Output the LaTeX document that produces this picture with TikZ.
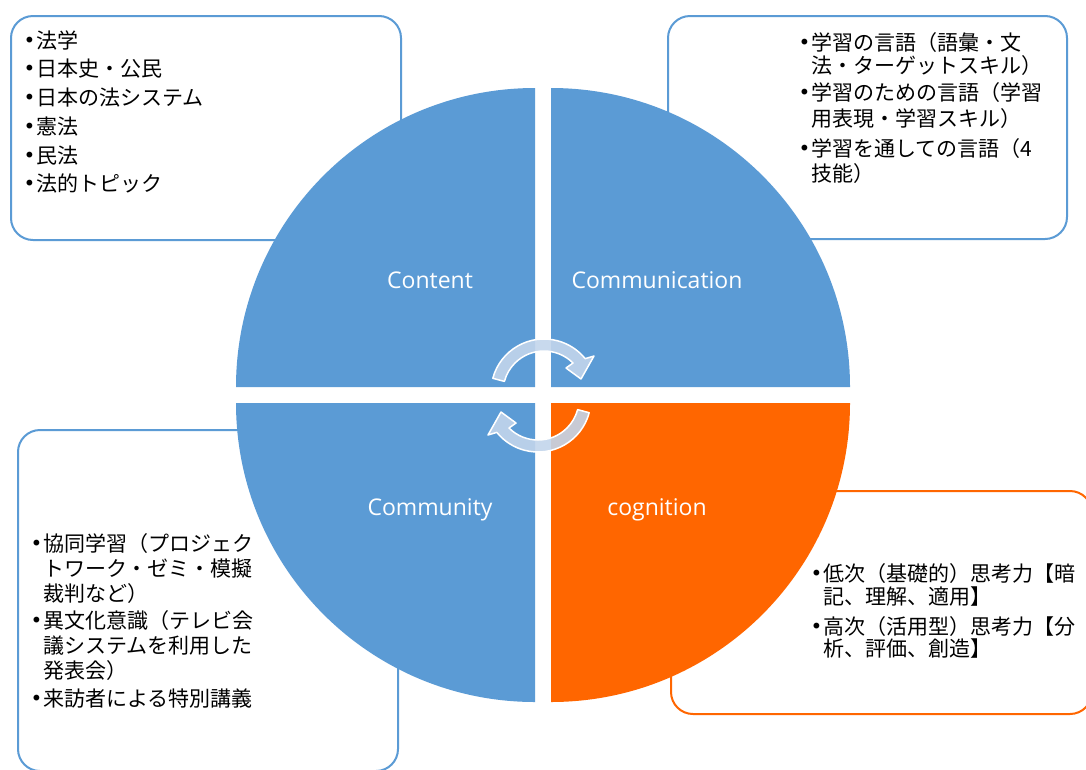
\documentclass[tikz,border=0pt]{standalone}
\usepackage{fontspec}
\newfontfamily\jpf{Noto Sans CJK JP}
\newfontfamily\dvs{DejaVu Sans}
\newfontfamily\labf{Open Sans}
\definecolor{qblue}{HTML}{5B9BD5}
\definecolor{qorange}{HTML}{FF6600}
\definecolor{arrowfill}{HTML}{C3D5EC}
\newcommand{\bul}{\makebox[11pt][l]{\hspace*{-1.5pt}\raisebox{0.5pt}{\dvs\fontsize{20}{20}\selectfont •}}}
\begin{document}
\begin{tikzpicture}[x=1pt,y=-1pt,
  box/.style={draw=qblue, line width=2pt, fill=white, rounded corners=22pt},
  obox/.style={box, draw=qorange},
  quad/.style={fill=qblue},
  jp/.style={anchor=base west, inner sep=0pt, font=\jpf\fontsize{21}{24}\selectfont},
  lab/.style={anchor=base, inner sep=0pt, text=white, font=\labf\fontsize{23}{26}\selectfont},
  cyc/.style={fill=arrowfill, fill opacity=0.9, draw=white, line width=1.5pt, line join=round}
]
\useasboundingbox (0,0) rectangle (1086,769);
\clip (0,0) rectangle (1086,769);
\fill[white] (0,0) rectangle (1086,769);

% text boxes
\draw[box] (11,16) rectangle (401,240);
\draw[box] (668,16) rectangle (1067,239);
\draw[box] (18,430) rectangle (398,771);
\draw[obox] (671,491) rectangle (1092,714);

% quadrants
\fill[quad] (535,387) -- ++(-299,0) arc[start angle=180, end angle=270, radius=299] -- cycle;
\fill[quad] (551,387) -- ++(0,-299) arc[start angle=270, end angle=360, radius=299] -- cycle;
\fill[quad] (535,403) -- ++(0,299) arc[start angle=90, end angle=180, radius=299] -- cycle;
\fill[qorange] (551,403) -- ++(299,0) arc[start angle=0, end angle=90, radius=299] -- cycle;

% quadrant labels
\node[lab] (content) at (430,288) {Content};
\node[lab] (communication) at (657,288) {Communication};
\node[lab] (community) at (430,515) {Community};
\node[lab] (cognition) at (657,515) {cognition};

% cycle arrows
\begin{scope}[shift={(544,392)}]
\draw[cyc] (-165:53) arc[start angle=-165, end angle=-39, radius=53] -- (50,-36) -- (37,-13) -- (22,-24) -- (-45:41) arc[start angle=-45, end angle=-165, radius=41] -- cycle;
\end{scope}
\begin{scope}[shift={(538,399)}, rotate=180]
\draw[cyc] (-165:53) arc[start angle=-165, end angle=-39, radius=53] -- (50,-36) -- (37,-13) -- (22,-24) -- (-45:41) arc[start angle=-45, end angle=-165, radius=41] -- cycle;
\end{scope}

% Content box
\node[jp] (tl1) at (25,48) {\bul 法学};
\node[jp] (tl2) at (25,76) {\bul 日本史・公民};
\node[jp] (tl3) at (25,105) {\bul 日本の法システム};
\node[jp] (tl4) at (25,134) {\bul 憲法};
\node[jp] (tl5) at (25,163) {\bul 民法};
\node[jp] (tl6) at (25,191) {\bul 法的トピック};

% Communication box
\node[jp] (tr1) at (800,50) {\bul 学習の言語（語彙・文};
\node[jp] (tr2) at (811,73) {法・ターゲットスキル）};
\node[jp] (tr3) at (800,100) {\bul 学習のための言語（学習};
\node[jp] (tr4) at (811,126) {用表現・学習スキル）};
\node[jp] (tr5) at (800,156) {\bul 学習を通しての言語（4};
\node[jp] (tr6) at (811,181) {技能）};

% Community box
\node[jp] (bl1) at (32,551) {\bul 協同学習（プロジェク};
\node[jp] (bl2) at (43,576) {トワーク・ゼミ・模擬};
\node[jp] (bl3) at (43,601) {裁判など）};
\node[jp] (bl4) at (32,628) {\bul 異文化意識（テレビ会};
\node[jp] (bl5) at (43,653) {議システムを利用した};
\node[jp] (bl6) at (43,678) {発表会）};
\node[jp] (bl7) at (32,706) {\bul 来訪者による特別講義};

% cognition box
\node[jp] (br1) at (812,581) {\bul 低次（基礎的）思考力【暗};
\node[jp] (br2) at (823,604) {記、理解、適用】};
\node[jp] (br3) at (812,634) {\bul 高次（活用型）思考力【分};
\node[jp] (br4) at (823,656) {析、評価、創造】};
\end{tikzpicture}
\end{document}
